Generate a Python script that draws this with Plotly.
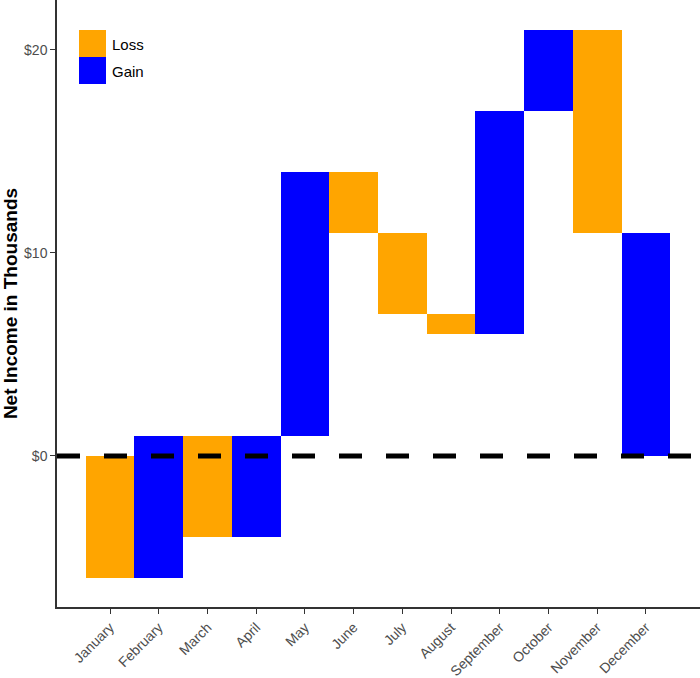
import plotly.graph_objects as go

months = ["January", "February", "March", "April", "May", "June", "July",
          "August", "September", "October", "November", "December"]
bar_start = [0, -6, 1, -4, 1, 14, 11, 7, 6, 17, 21, 0]
bar_end = [-6, 1, -4, 1, 14, 11, 7, 6, 17, 21, 11, 11]
bar_type = ["Loss", "Gain", "Loss", "Gain", "Gain", "Loss", "Loss", "Loss",
            "Gain", "Gain", "Loss", "Gain"]
y_tick_vals = [0, 10, 20]
y_tick_text = ["$0", "$10", "$20"]

colors = {"Loss": "#FFA500", "Gain": "#0000FF"}

fig = go.Figure()
for kind in ["Loss", "Gain"]:
    xs, bases, heights = [], [], []
    for i, m in enumerate(months):
        if bar_type[i] == kind:
            lo = min(bar_start[i], bar_end[i])
            hi = max(bar_start[i], bar_end[i])
            xs.append(i)
            bases.append(lo)
            heights.append(hi - lo)
    fig.add_trace(go.Bar(x=xs, y=heights, base=bases, name=kind,
                         marker=dict(color=colors[kind], line=dict(width=0)),
                         width=1.0, showlegend=False))

# dashed zero line
fig.add_shape(type="line", xref="paper", yref="y", x0=0, x1=1, y0=0, y1=0,
              line=dict(color="black", width=5, dash="23px,24px"), layer="above")

# legend drawn as keys
fig.add_shape(type="rect", xref="paper", yref="paper", x0=22/643, x1=49/643,
              y0=1 - 57/607, y1=1 - 30/607, fillcolor=colors["Loss"], line=dict(width=0))
fig.add_shape(type="rect", xref="paper", yref="paper", x0=22/643, x1=49/643,
              y0=1 - 84/607, y1=1 - 57/607, fillcolor=colors["Gain"], line=dict(width=0))
for label, yc in [("Loss", 45), ("Gain", 72)]:
    fig.add_annotation(text=label, xref="paper", yref="paper", x=53/643, y=1 - yc/607,
                       xanchor="left", yanchor="middle", showarrow=False,
                       font=dict(family="Liberation Sans, Arial", size=15, color="black"))

fig.update_layout(
    width=700, height=678,
    margin=dict(l=57, r=0, t=0, b=71),
    plot_bgcolor="white", paper_bgcolor="white",
    bargap=0,
    font=dict(family="Liberation Sans, Arial", color="#333333"),
    xaxis=dict(range=[-1.09, 12.11], tickvals=list(range(len(months))), ticktext=months,
               tickangle=-45, ticks="outside", ticklen=5, tickcolor="#333333",
               showline=True, linecolor="#333333", linewidth=1.5, showgrid=False,
               zeroline=False, tickfont=dict(size=14, color="#4d4d4d")),
    yaxis=dict(range=[-7.44, 22.46], tickvals=y_tick_vals, ticktext=y_tick_text,
               ticks="outside", ticklen=5, tickcolor="#333333",
               showline=True, linecolor="#333333", linewidth=1.5, showgrid=False,
               zeroline=False, tickfont=dict(size=14, color="#4d4d4d"),
               title=dict(text="<b>Net Income in Thousands</b>", standoff=8,
                          font=dict(size=19, color="black"))),
)

fig.write_html("out.html", config={"displayModeBar": False},
               post_script="document.body.style.margin='0';document.body.style.overflow='hidden';")
